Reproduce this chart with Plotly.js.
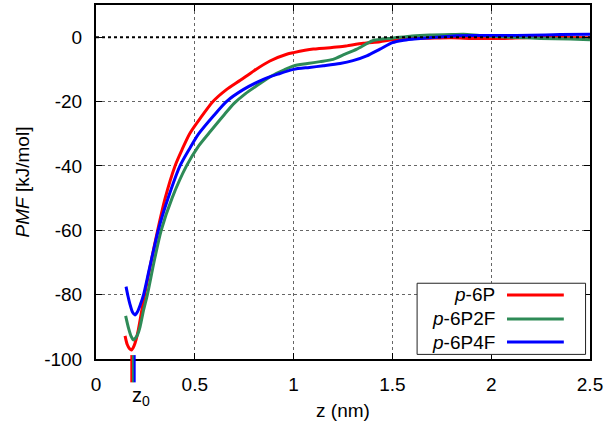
<!DOCTYPE html>
<html>
<head>
<meta charset="utf-8">
<script src="https://cdn.plot.ly/plotly-3.0.1.min.js"></script>
<style>html,body{margin:0;padding:0;background:#fff;}#chart{width:609px;height:424px;}</style>
</head>
<body>
<div id="chart"></div>
<script>
// Series names
const seriesNames = ['<i>p</i>-6P', '<i>p</i>-6P2F', '<i>p</i>-6P4F'];

// p-6P (red)
const zRed   = [0.147, 0.158, 0.170, 0.180, 0.192, 0.203, 0.214, 0.230, 0.246, 0.278, 0.312, 0.350, 0.400, 0.435, 0.474, 0.530, 0.592, 0.660, 0.730, 0.800, 0.880, 0.965, 1.000, 1.100, 1.235, 1.270, 1.353, 1.437, 1.500, 1.600, 1.690, 1.800, 1.900, 1.940, 2.050, 2.200, 2.350, 2.500];
const pmfRed = [-92.8, -95.5, -96.8, -97.2, -96.0, -94.0, -91.0, -85.5, -80.0, -70.0, -60.0, -50.0, -40.0, -35.0, -30.0, -25.0, -20.0, -16.3, -13.4, -10.4, -7.4, -5.3, -4.8, -3.7, -3.0, -2.7, -1.9, -1.4, -0.8, -0.4, -0.3, -0.2, -0.4, -0.4, -0.4, -0.1, -0.1, -0.2];

// p-6P2F (green)
const zGreen   = [0.150, 0.165, 0.178, 0.189, 0.200, 0.210, 0.223, 0.240, 0.260, 0.293, 0.330, 0.385, 0.458, 0.518, 0.573, 0.650, 0.700, 0.755, 0.830, 0.890, 0.950, 1.000, 1.070, 1.134, 1.200, 1.260, 1.320, 1.400, 1.450, 1.500, 1.600, 1.690, 1.800, 1.860, 1.940, 2.000, 2.100, 2.250, 2.400, 2.500];
const pmfGreen = [-86.6, -90.5, -93.0, -94.1, -93.5, -92.5, -90.0, -85.0, -80.0, -70.0, -60.0, -50.0, -40.0, -33.9, -29.7, -24.0, -20.5, -17.6, -14.4, -12.0, -10.2, -8.9, -8.2, -7.6, -6.9, -5.3, -3.7, -1.1, -0.6, -0.3, 0.4, 0.7, 0.8, 0.9, 0.5, 0.3, 0.0, -0.4, -0.6, -0.8];

// p-6P4F (blue)
const zBlue   = [0.152, 0.162, 0.172, 0.185, 0.197, 0.210, 0.225, 0.241, 0.270, 0.315, 0.365, 0.425, 0.475, 0.520, 0.594, 0.660, 0.745, 0.847, 0.920, 1.000, 1.080, 1.150, 1.235, 1.300, 1.370, 1.437, 1.500, 1.550, 1.610, 1.700, 1.810, 1.940, 2.050, 2.200, 2.350, 2.500];
const pmfBlue = [-77.5, -80.5, -83.0, -85.5, -86.3, -85.3, -83.0, -80.0, -72.0, -60.0, -50.0, -40.0, -34.5, -30.0, -24.5, -20.0, -16.3, -13.1, -11.5, -10.0, -9.4, -8.9, -8.2, -7.3, -5.8, -3.7, -1.7, -1.0, -0.6, -0.1, 0.4, 0.5, 0.5, 0.6, 0.8, 0.9];

// z0 positions (minimum locations) marked under the axis
const z0Pos = [0.1786, 0.1872, 0.1958];

// Tick labels
const xTicks = [0, 0.5, 1, 1.5, 2, 2.5];
const xTickText = ['0', '0.5', '1', '1.5', '2', '2.5'];
const yTicks = [0, -20, -40, -60, -80, -100];
const yTickText = ['0', '-20', '-40', '-60', '-80', '-100'];

const colors = ['#ff0000', '#2e8b57', '#0000ff'];
const FONT = 'Liberation Sans, Arial, sans-serif';

const xs = [zRed, zGreen, zBlue];
const ys = [pmfRed, pmfGreen, pmfBlue];

const traces = xs.map((x, i) => ({
  x: x, y: ys[i], type: 'scatter', mode: 'lines', name: seriesNames[i],
  line: {color: colors[i], width: 3, shape: 'spline', smoothing: 0.7}, showlegend: false
}));

// custom legend (text then line sample, gnuplot style)
const legText = 0.8117, legL0 = 0.832, legL1 = 0.947;
const legRows = [0.181, 0.113, 0.048];

const shapes = [
  {type: 'line', xref: 'paper', yref: 'y', x0: 0, x1: 1, y0: 0, y1: 0,
   line: {color: '#000', width: 2, dash: 'dot'}, layer: 'above'},
  {type: 'rect', xref: 'paper', yref: 'paper', x0: 0.650, x1: 0.991, y0: 0.013, y1: 0.214,
   fillcolor: '#fff', line: {color: '#222', width: 1}, layer: 'above'}
];
// z0 marks below the x axis
z0Pos.forEach((z, i) => {
  shapes.push({type: 'line', xref: 'x', yref: 'paper', x0: z, x1: z, y0: 0.011, y1: -0.066,
    line: {color: colors[i], width: 2}, layer: 'above'});
});
const annotations = [];
legRows.forEach((ry, i) => {
  shapes.push({type: 'line', xref: 'paper', yref: 'paper', x0: legL0, x1: legL1, y0: ry, y1: ry,
    line: {color: colors[i], width: 3}, layer: 'above'});
  annotations.push({xref: 'paper', yref: 'paper', x: legText, y: ry, xanchor: 'right', yanchor: 'middle',
    text: seriesNames[i], showarrow: false, font: {family: FONT, size: 19, color: '#000'}});
});
annotations.push({xref: 'x', yref: 'paper', x: 0.17, y: -0.064, xanchor: 'left', yanchor: 'top',
  text: 'z<sub>0</sub>', showarrow: false, font: {family: FONT, size: 20, color: '#000'}});

const axisCommon = {
  showline: true, mirror: 'ticks', linecolor: '#000', linewidth: 2,
  ticks: 'inside', ticklen: 6, tickwidth: 1, tickcolor: '#000',
  showgrid: true, gridcolor: '#666', gridwidth: 1, griddash: 'dot',
  zeroline: false, tickfont: {family: FONT, size: 19, color: '#000'}
};

const layout = {
  width: 609, height: 424,
  margin: {l: 96, r: 19, t: 5, b: 65},
  paper_bgcolor: '#fff', plot_bgcolor: '#fff',
  font: {family: FONT, size: 19, color: '#000'},
  xaxis: Object.assign({}, axisCommon, {
    range: [0, 2.5], tickvals: xTicks, ticktext: xTickText, ticklabelstandoff: 7,
    title: {text: 'z (nm)', font: {family: FONT, size: 19, color: '#000'}, standoff: 10}
  }),
  yaxis: Object.assign({}, axisCommon, {
    range: [-100, 10], tickvals: yTicks, ticktext: yTickText, ticklabelstandoff: 8,
    title: {text: '<i>PMF</i> [kJ/mol]', font: {family: FONT, size: 19, color: '#000'}, standoff: 10}
  }),
  shapes: shapes,
  annotations: annotations,
  showlegend: false
};

Plotly.newPlot('chart', traces, layout, {staticPlot: true, displayModeBar: false});
</script>
</body>
</html>
